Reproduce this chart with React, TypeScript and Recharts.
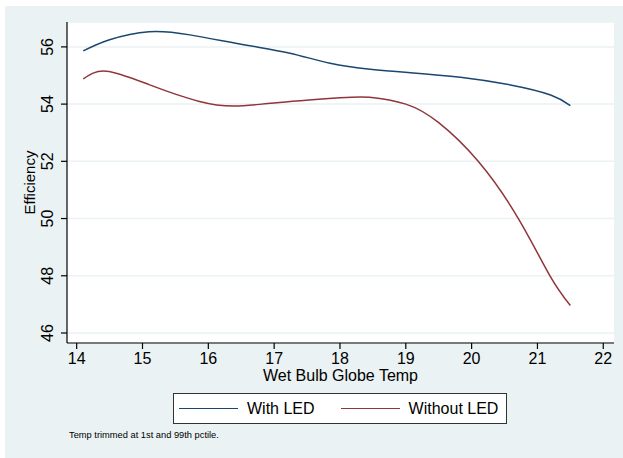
import React from "react";
import { CartesianGrid, Label, Legend, Line, LineChart, XAxis, YAxis } from "recharts";

// values (temp -> efficiency)
const withLedTemp = [14.1, 14.5, 15.1, 15.72, 16.56, 17.24, 17.85, 18.46, 19.07, 19.83, 20.59, 21.2, 21.5];
const withLedEff = [55.86, 56.25, 56.53, 56.42, 56.07, 55.78, 55.43, 55.22, 55.1, 54.94, 54.67, 54.32, 53.95];

const withoutLedTemp = [14.1, 14.45, 15.1, 15.85, 16.4, 17.0, 18.0, 18.45, 19.0, 19.5, 20.1, 20.71, 21.19, 21.5];
const withoutLedEff = [54.88, 55.15, 54.68, 54.1, 53.93, 54.04, 54.22, 54.24, 54.0, 53.35, 52.0, 50.0, 48.0, 46.96];

const xTicks = [14, 15, 16, 17, 18, 19, 20, 21, 22];
const yTicks = [46, 48, 50, 52, 54, 56];

const seriesNames = ["With LED", "Without LED"];
const seriesColors = ["#1a476f", "#90353b"];

const FONT = "'Liberation Sans', Arial, Helvetica, sans-serif";

const withLed = withLedTemp.map((x, i) => ({ x, y: withLedEff[i] }));
const withoutLed = withoutLedTemp.map((x, i) => ({ x, y: withoutLedEff[i] }));

const YTick = (props: any) => {
  const { y, payload } = props;
  const cx = 48;
  return (
    <text x={cx} y={y} transform={`rotate(-90, ${cx}, ${y})`} textAnchor="middle"
      fontSize={16} fontFamily={FONT} fill="#000">
      {payload.value}
    </text>
  );
};

const LegendBox = () => (
  <div style={{
    width: 334, height: 31, boxSizing: "border-box", border: "1px solid #333",
    background: "#fff", display: "flex", alignItems: "center", fontFamily: FONT, fontSize: 16,
    color: "#000",
  }}>
    {seriesNames.map((name, i) => (
      <div key={name} style={{ display: "flex", alignItems: "center", marginLeft: i === 0 ? 5 : 26 }}>
        <div style={{ width: 59, height: 0, borderTop: `1.5px solid ${seriesColors[i]}` }} />
        <span style={{ marginLeft: 9 }}>{name}</span>
      </div>
    ))}
  </div>
);

export default function App() {
  return (
    <div style={{ position: "absolute", left: 0, top: 0, width: 623, height: 458, background: "#fff" }}>
      <div style={{ position: "absolute", left: 5, top: 6, width: 618, height: 452, background: "#eaf2f3" }}>
        <LineChart width={618} height={452} margin={{ top: 16, right: 9, left: 22, bottom: 74 }}>
          <CartesianGrid vertical={false} stroke="#eaf2f3" fill="#fff" strokeWidth={1.5} />
          <XAxis dataKey="x" type="number" domain={[13.853, 22.163]} ticks={xTicks} allowDataOverflow
            height={41} tickSize={6} tickMargin={4} stroke="#000" strokeWidth={1.2}
            tick={{ fontSize: 16, fontFamily: FONT, fill: "#000" }} interval={0}>
            <Label content={(p: any) => {
              const vb = p.viewBox;
              return (
                <text x={vb.x + vb.width / 2} y={vb.y + 38} textAnchor="middle" fontSize={16}
                  fontFamily={FONT} fill="#000">Wet Bulb Globe Temp</text>
              );
            }} />
          </XAxis>
          <YAxis type="number" domain={[45.65, 56.87]} ticks={yTicks} allowDataOverflow width={40}
            tickSize={6} stroke="#000" strokeWidth={1.2} tick={<YTick />} interval={0}>
            <Label content={(p: any) => {
              const vb = p.viewBox;
              const cx = vb.x + 8;
              const cy = vb.y + vb.height / 2;
              return (
                <text x={cx} y={cy} transform={`rotate(-90, ${cx}, ${cy})`} textAnchor="middle"
                  fontSize={15} fontFamily={FONT} fill="#000">Efficiency</text>
              );
            }} />
          </YAxis>
          <Legend layout="horizontal" verticalAlign="middle" align="center" content={<LegendBox />}
            wrapperStyle={{ left: 168, top: 387, width: 334, height: 31 }} />
          <Line data={withLed} dataKey="y" name={seriesNames[0]} type="natural" stroke={seriesColors[0]}
            strokeWidth={1.5} dot={false} isAnimationActive={false} />
          <Line data={withoutLed} dataKey="y" name={seriesNames[1]} type="natural" stroke={seriesColors[1]}
            strokeWidth={1.5} dot={false} isAnimationActive={false} />
        </LineChart>
        <div style={{ position: "absolute", left: 64, top: 424, fontSize: 9.3, fontFamily: FONT, color: "#000", whiteSpace: "nowrap" }}>
          Temp trimmed at 1st and 99th pctile.
        </div>
      </div>
    </div>
  );
}
